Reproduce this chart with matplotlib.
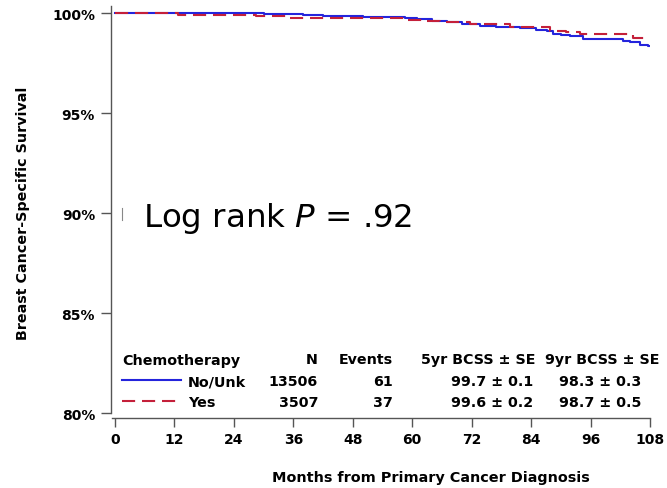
import matplotlib
matplotlib.use("Agg")
import matplotlib.pyplot as plt
from matplotlib.lines import Line2D

# Kaplan-Meier step curves (months, survival %)
months_no = [0, 26, 30, 34, 38, 42, 46, 50, 54, 58.5, 61, 64, 67, 70, 73.7, 77,
             81.8, 85, 87.2, 88.4, 90, 91.8, 94.5, 102.5, 104, 106, 107.6, 108]
surv_no = [100, 99.98, 99.95, 99.93, 99.9, 99.87, 99.84, 99.81, 99.78, 99.76, 99.68,
           99.6, 99.53, 99.45, 99.37, 99.3, 99.23, 99.17, 99.12, 98.95, 98.92, 98.87,
           98.7, 98.62, 98.53, 98.42, 98.33, 98.33]

months_yes = [0, 12.7, 26, 28.5, 35, 44, 58.5, 62, 65.6, 71.7, 79.7, 87.8, 91,
              93.9, 104.6, 108]
surv_yes = [100, 99.92, 99.88, 99.83, 99.76, 99.73, 99.65, 99.6, 99.53, 99.45,
            99.28, 99.12, 99.03, 98.95, 98.75, 98.75]

groups = ["No/Unk", "Yes"]
n_pat = ["13506", "3507"]
events = ["61", "37"]
bcss5 = ["99.7 \u00b1 0.1", "99.6 \u00b1 0.2"]
bcss9 = ["98.3 \u00b1 0.3", "98.7 \u00b1 0.5"]

x_ticks = list(range(0, 109, 12))
y_ticks = [80, 85, 90, 95, 100]
y_tick_labels = ["80%", "85%", "90%", "95%", "100%"]

W, H = 667, 489
BLUE = "#2424dc"
RED = "#c4203a"
GRAY = "#555555"

plt.rcParams["font.family"] = ["DejaVu Sans"]


def px(x, y):
    # pixel position (from top-left) -> figure fraction
    return x / W, 1 - y / H


fig = plt.figure(figsize=(W / 100, H / 100), dpi=100)
ax = fig.add_axes([111 / W, 1 - 414 / H, (650 - 111) / W, (414 - 7) / H])

ax.step(months_no, surv_no, where="post", color=BLUE, lw=1.5)
ax.step(months_yes, surv_yes, where="post", color=RED, lw=1.5, dashes=(6.3, 3.3))

ax.set_xlim(-0.8, 108)
ax.set_ylim(80, 100.35)
ax.set_xticks(x_ticks)
ax.set_yticks(y_ticks)
ax.set_yticklabels(y_tick_labels)

for side in ["top", "right"]:
    ax.spines[side].set_visible(False)
for side in ["left", "bottom"]:
    ax.spines[side].set_color(GRAY)
    ax.spines[side].set_linewidth(1.0)
ax.spines["bottom"].set_position(("outward", 3.6))
ax.spines["bottom"].set_bounds(-0.6, 108)

ax.tick_params(axis="y", length=7.2, width=1.0, color=GRAY, pad=4.3, labelsize=10)
ax.tick_params(axis="x", length=6.5, width=1.0, color=GRAY, pad=3.6, labelsize=10)
for lab in ax.get_xticklabels() + ax.get_yticklabels():
    lab.set_fontweight("bold")

# axis titles
fig.text(*px(23, 213), "Breast Cancer-Specific Survival", rotation=90,
         ha="center", va="center", fontsize=10.3, fontweight="bold")
fig.text(*px(431, 478), "Months from Primary Cancer Diagnosis",
         ha="center", va="center", fontsize=10.4, fontweight="bold")

# log-rank annotation
fig.text(*px(143, 227), r"Log rank $P$ = .92", ha="left", va="baseline", fontsize=23.4)
fig.add_artist(Line2D([122 / W, 122 / W], [1 - 209 / H, 1 - 221 / H],
                      color="#888888", lw=0.8))

# legend table
fs = 10.3
handles = [Line2D([], [], color=BLUE, lw=1.5),
           Line2D([], [], color=RED, lw=1.5, dashes=(6.3, 3.3))]
leg = ax.legend(handles, groups, title="Chemotherapy", loc="upper left",
                bbox_to_anchor=(px(115, 347)), bbox_transform=fig.transFigure,
                frameon=False, borderpad=0, handlelength=4.1, handletextpad=0.5,
                labelspacing=0.5, alignment="left",
                prop={"size": fs, "weight": "bold"},
                title_fontproperties={"size": fs, "weight": "bold"})

rows_y = [360, 382, 403]
fig.text(*px(318, rows_y[0]), "N", ha="right", va="center", fontsize=fs, fontweight="bold")
fig.text(*px(393, rows_y[0]), "Events", ha="right", va="center", fontsize=fs, fontweight="bold")
fig.text(*px(535, rows_y[0]), "5yr BCSS \u00b1 SE", ha="right", va="center", fontsize=fs, fontweight="bold")
fig.text(*px(602, rows_y[0]), "9yr BCSS \u00b1 SE", ha="center", va="center", fontsize=fs, fontweight="bold")
for i in range(2):
    y = rows_y[i + 1]
    fig.text(*px(318, y), n_pat[i], ha="right", va="center", fontsize=fs, fontweight="bold")
    fig.text(*px(393, y), events[i], ha="right", va="center", fontsize=fs, fontweight="bold")
    fig.text(*px(533, y), bcss5[i], ha="right", va="center", fontsize=fs, fontweight="bold")
    fig.text(*px(600, y), bcss9[i], ha="center", va="center", fontsize=fs, fontweight="bold")

fig.savefig("out.png", dpi=100)
